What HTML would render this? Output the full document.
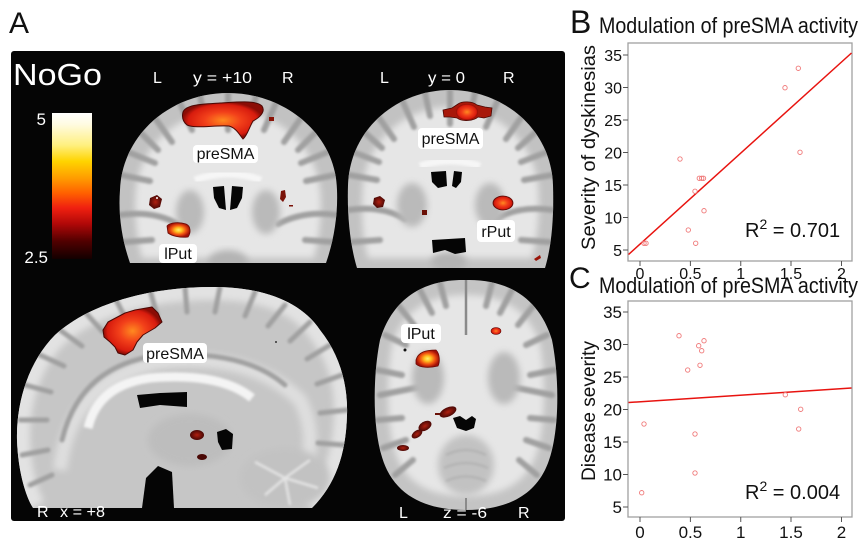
<!DOCTYPE html>
<html><head><meta charset="utf-8"><style>
html,body{margin:0;padding:0;background:#fff;}
svg{display:block;font-family:"Liberation Sans",Arial,sans-serif;}
</style></head><body>
<svg xmlns="http://www.w3.org/2000/svg" width="864" height="544" viewBox="0 0 864 544">
<defs>
<filter id="f1" x="-20%" y="-20%" width="140%" height="140%"><feGaussianBlur stdDeviation="1.3"/></filter>
<filter id="f3" x="-20%" y="-20%" width="140%" height="140%"><feGaussianBlur stdDeviation="3.5"/></filter>
<linearGradient id="cb" x1="0" y1="0" x2="0" y2="1">
<stop offset="0" stop-color="#ffffff"/><stop offset="0.08" stop-color="#fffbe0"/><stop offset="0.22" stop-color="#fff080"/>
<stop offset="0.33" stop-color="#ffd400"/><stop offset="0.45" stop-color="#ff9a00"/><stop offset="0.55" stop-color="#ff6000"/>
<stop offset="0.65" stop-color="#f02010"/><stop offset="0.76" stop-color="#b00808"/><stop offset="0.88" stop-color="#500000"/>
<stop offset="1" stop-color="#120000"/></linearGradient>
<radialGradient id="hot"><stop offset="0" stop-color="#ff8a20"/><stop offset="0.45" stop-color="#f2401a"/><stop offset="0.85" stop-color="#d81c0e"/><stop offset="1" stop-color="#8a0c05"/></radialGradient>
<radialGradient id="hotY"><stop offset="0" stop-color="#fff070"/><stop offset="0.3" stop-color="#ffc020"/><stop offset="0.65" stop-color="#f05010"/><stop offset="1" stop-color="#a01008"/></radialGradient>
<radialGradient id="drk"><stop offset="0" stop-color="#b02010"/><stop offset="1" stop-color="#4a0805"/></radialGradient>
<clipPath id="c1"><path d="M130,263 C122,240 118,215 120,190 C122,135 170,93 228,93 C286,93 336,135 337,190 C338,215 334,240 326,263 Z"/></clipPath>
<clipPath id="c2"><path d="M357,268 C350,245 347,215 348,185 C350,128 398,90 450,90 C502,90 551,128 553,185 C554,215 552,245 545,268 Z"/></clipPath>
<clipPath id="c3"><path d="M33,508 C25,495 18,470 17,440 C16,400 30,360 55,335 C90,303 150,287 213,287 C260,287 300,300 320,330 C340,355 348,385 347,415 C346,455 335,485 312,508 Z"/></clipPath>
<clipPath id="c4"><path d="M466,280 C510,279 540,300 552,340 C560,380 560,440 545,470 C530,500 500,510 466,510 C432,510 402,500 387,470 C372,440 372,380 380,340 C392,300 422,279 466,280 Z"/></clipPath>
</defs>
<rect width="864" height="544" fill="#fff"/>
<text x="9" y="33" font-size="30" fill="#111">A</text>
<rect x="11" y="51" width="554" height="470" rx="3" fill="#050505"/>
<text x="13" y="85" font-size="31" fill="#fff" textLength="89" lengthAdjust="spacingAndGlyphs">NoGo</text>
<rect x="52" y="113" width="40" height="146" fill="url(#cb)"/>
<text x="46" y="125" font-size="17" fill="#fff" text-anchor="end">5</text>
<text x="48" y="263" font-size="17" fill="#fff" text-anchor="end">2.5</text>

<!-- Coronal 1 -->
<g clip-path="url(#c1)">
<rect x="110" y="85" width="240" height="185" fill="#c2c2c2"/>
<path d="M142,258 C136,235 134,210 136,190 C140,145 180,110 228,110 C276,110 316,145 320,190 C322,210 320,235 314,258 Z" fill="#e6e6e6" filter="url(#f3)"/>
<g stroke="#a0a0a0" stroke-width="6" fill="none" filter="url(#f1)" stroke-linecap="round">
<path d="M228,93 L228,130"/><path d="M200,96 L205,120"/><path d="M180,103 L192,130"/><path d="M155,118 L172,142"/><path d="M140,132 L158,150"/><path d="M128,152 L155,163"/><path d="M121,175 L150,181"/>
<path d="M256,96 L251,120"/><path d="M276,103 L264,130"/><path d="M301,118 L284,142"/><path d="M316,132 L298,150"/><path d="M328,152 L301,163"/><path d="M335,175 L306,181"/>
<path d="M120,215 C140,212 160,214 178,224"/><path d="M337,215 C317,212 297,214 278,224"/>
<path d="M124,242 L152,240"/><path d="M333,242 L305,240"/>
</g>
<ellipse cx="190" cy="212" rx="14" ry="22" fill="#bababa" filter="url(#f3)"/>
<ellipse cx="266" cy="212" rx="14" ry="22" fill="#bababa" filter="url(#f3)"/>
<path d="M195,180 Q228,168 261,180" stroke="#f6f6f6" stroke-width="7" fill="none" filter="url(#f1)"/>
<ellipse cx="228" cy="262" rx="20" ry="12" fill="#b4b4b4" filter="url(#f3)"/>
<path d="M213,187 L224,186 L226,210 L219,208 L214,198 Z M232,186 L243,187 L242,198 L237,208 L230,210 Z" fill="#050505"/>
</g>
<path d="M183,112 C186,104 205,104 220,103 C238,102 256,100 262,106 C266,112 259,118 253,121 C249,128 247,136 243,139 C239,134 236,128 229,126 C214,125 196,129 187,125 C182,121 182,116 183,112 Z" fill="url(#hot)" stroke="#4a0804" stroke-width="1"/>
<rect x="269" y="117" width="5" height="4" fill="#8a1408"/>
<path d="M150,198 L157,195 L162,199 L160,207 L154,209 L149,205 Z" fill="url(#drk)"/>
<circle cx="157" cy="198" r="1" fill="#fff"/>
<path d="M281,191 L285,190 L286,197 L283,202 L280,199 Z" fill="#7a1208"/>
<rect x="289" y="205" width="4" height="1.5" fill="#7a1208"/>
<path d="M167,226 C170,222 180,222 186,224 C191,226 191,233 188,237 C180,238 172,236 168,233 Z" fill="url(#hotY)" stroke="#6a0a04" stroke-width="0.8"/>
<rect x="193" y="145" width="65" height="18" rx="4" fill="#fff"/>
<text x="225.5" y="159" font-size="16" text-anchor="middle" fill="#111">preSMA</text>
<rect x="159" y="244" width="38" height="19" rx="4" fill="#fff"/>
<text x="178" y="259" font-size="16" text-anchor="middle" fill="#111">lPut</text>

<!-- Coronal 2 -->
<g clip-path="url(#c2)">
<rect x="340" y="85" width="220" height="190" fill="#c2c2c2"/>
<path d="M368,258 C362,235 361,210 363,185 C368,140 405,107 450,107 C495,107 533,140 538,185 C540,210 538,235 532,258 Z" fill="#e6e6e6" filter="url(#f3)"/>
<g stroke="#a0a0a0" stroke-width="6" fill="none" filter="url(#f1)" stroke-linecap="round">
<path d="M450,90 L450,124"/><path d="M425,93 L430,116"/><path d="M402,100 L414,127"/><path d="M377,115 L394,139"/><path d="M362,130 L382,148"/><path d="M353,152 L379,162"/><path d="M349,175 L377,180"/>
<path d="M475,93 L470,116"/><path d="M498,100 L486,127"/><path d="M523,115 L506,139"/><path d="M538,130 L518,148"/><path d="M547,152 L521,162"/><path d="M552,175 L524,180"/>
<path d="M348,210 C368,207 388,209 405,219"/><path d="M553,210 C533,207 513,209 496,219"/>
<path d="M352,242 L380,240"/><path d="M549,242 L521,240"/>
</g>
<ellipse cx="412" cy="205" rx="15" ry="22" fill="#bababa" filter="url(#f3)"/>
<ellipse cx="490" cy="205" rx="15" ry="22" fill="#bababa" filter="url(#f3)"/>
<path d="M420,166 Q450,156 480,166" stroke="#f6f6f6" stroke-width="7" fill="none" filter="url(#f1)"/>
<ellipse cx="449" cy="262" rx="18" ry="10" fill="#b4b4b4" filter="url(#f3)"/>
<path d="M431,172 L446,171 L447,186 L438,188 L432,182 Z M454,171 L462,172 L461,182 L456,188 L452,186 Z" fill="#050505"/>
<path d="M432,240 L465,238 L466,252 L455,254 L445,250 L433,253 Z" fill="#050505"/>
</g>
<path d="M443,110 L452,108 L458,104 C462,101 472,101 477,105 L485,107 L492,108 L491,116 L484,118 L478,117 C474,121 462,122 457,118 L450,117 L444,117 Z" fill="#a8180a" stroke="#4a0804" stroke-width="0.8"/>
<ellipse cx="467" cy="112" rx="11" ry="8" fill="url(#hot)"/>
<path d="M374,198 L380,196 L385,200 L383,207 L377,208 L373,204 Z" fill="url(#drk)"/>
<ellipse cx="503" cy="203" rx="10" ry="7" fill="url(#hot)" stroke="#5a0804" stroke-width="0.8"/>
<rect x="422" y="210" width="5" height="5" fill="#6a1006"/>
<path d="M534,259 L540,255 L541,258 L536,261 Z" fill="#9a1408"/>
<rect x="418" y="128" width="65" height="21" rx="4" fill="#fff"/>
<text x="450.5" y="144" font-size="16" text-anchor="middle" fill="#111">preSMA</text>
<rect x="477" y="220" width="38" height="22" rx="4" fill="#fff"/>
<text x="496" y="237" font-size="16" text-anchor="middle" fill="#111">rPut</text>

<!-- Sagittal -->
<g clip-path="url(#c3)">
<rect x="10" y="280" width="345" height="235" fill="#c6c6c6"/>
<path d="M33,508 C25,495 18,470 17,440 C16,400 30,360 55,335 C90,303 150,287 213,287 C260,287 300,300 320,330 C340,355 348,385 347,415 C346,455 335,485 312,508" stroke="#e2e2e2" stroke-width="26" fill="none" filter="url(#f3)"/>
<path d="M60,470 Q70,380 160,362 Q250,352 300,400 Q320,440 300,480" stroke="#dedede" stroke-width="14" fill="none" filter="url(#f3)"/>
<g stroke="#a0a0a0" stroke-width="5" fill="none" filter="url(#f1)" stroke-linecap="round">
<path d="M25,385 L51,392"/><path d="M40,355 L64,366"/><path d="M60,330 L82,346"/><path d="M85,312 L103,332"/><path d="M115,298 L127,321"/>
<path d="M150,290 L157,315"/><path d="M185,287 L187,312"/><path d="M220,287 L215,312"/><path d="M255,292 L245,316"/><path d="M285,305 L268,326"/>
<path d="M310,322 L290,341"/><path d="M330,345 L307,359"/><path d="M342,375 L317,384"/><path d="M347,410 L320,413"/><path d="M344,445 L318,443"/>
<path d="M20,420 L47,420"/><path d="M22,455 L48,450"/><path d="M30,485 L52,475"/>
<path d="M62,440 Q80,365 160,355 Q245,350 285,385"/>
</g>
<ellipse cx="190" cy="440" rx="42" ry="26" fill="#bdbdbd" filter="url(#f3)"/>
<ellipse cx="285" cy="478" rx="45" ry="30" fill="#c2c2c2" filter="url(#f3)"/>
<g stroke="#e4e4e4" stroke-width="2.5" fill="none" filter="url(#f1)">
<path d="M285,478 L255,462"/><path d="M285,478 L265,495"/><path d="M285,478 L310,460"/><path d="M285,478 L318,488"/><path d="M285,478 L290,505"/>
</g>
<path d="M88,428 Q98,385 150,378 Q220,372 252,398" stroke="#f4f4f4" stroke-width="9" fill="none" filter="url(#f1)"/>
<path d="M137,395 L160,393 L187,392 L187,407 L160,405 L140,408 Z" fill="#050505"/>
<path d="M217,432 L226,429 L233,434 L232,449 L222,450 L218,442 Z" fill="#050505"/>
<path d="M142,508 L146,478 L158,466 L172,472 L174,508 Z" fill="#050505"/>
</g>
<path d="M103,330 L108,322 L125,313 L135,310 L152,307 L158,313 L162,322 L155,328 L143,335 L137,342 L133,350 L125,355 L118,353 L115,347 L110,342 L104,337 Z" fill="url(#hot)" stroke="#4a0804" stroke-width="1" stroke-linejoin="round"/>
<ellipse cx="197" cy="435" rx="7" ry="5" fill="url(#drk)"/>
<ellipse cx="202" cy="457" rx="5" ry="3" fill="#4a0805"/>
<circle cx="276" cy="342" r="1" fill="#333"/>
<rect x="143" y="343" width="64" height="20" rx="4" fill="#fff"/>
<text x="175" y="359" font-size="16" text-anchor="middle" fill="#111">preSMA</text>

<!-- Axial -->
<g clip-path="url(#c4)">
<rect x="365" y="275" width="200" height="240" fill="#c4c4c4"/>
<path d="M466,295 C505,295 530,312 540,345 C546,380 546,435 533,462 C520,488 496,496 466,496 C436,496 412,488 399,462 C386,435 386,380 392,345 C402,312 427,295 466,295 Z" fill="#e6e6e6" filter="url(#f3)"/>
<g stroke="#a0a0a0" stroke-width="6" fill="none" filter="url(#f1)" stroke-linecap="round">
<path d="M440,283 L446,306"/><path d="M420,290 L432,313"/><path d="M398,305 L414,325"/><path d="M385,335 L406,345"/><path d="M377,370 L402,375"/><path d="M378,420 L402,418"/><path d="M383,448 L406,440"/><path d="M395,475 L413,460"/>
<path d="M492,283 L486,306"/><path d="M512,290 L500,313"/><path d="M534,305 L518,325"/><path d="M547,335 L526,345"/><path d="M555,370 L530,375"/><path d="M554,420 L530,418"/><path d="M549,448 L526,440"/><path d="M537,475 L519,460"/>
<path d="M380,395 L420,387"/><path d="M552,395 L512,387"/>
</g>
<ellipse cx="428" cy="378" rx="16" ry="26" fill="#bababa" filter="url(#f3)"/>
<ellipse cx="504" cy="378" rx="16" ry="26" fill="#bababa" filter="url(#f3)"/>
<ellipse cx="466" cy="465" rx="28" ry="30" fill="#c2c2c2" filter="url(#f3)"/>
<g stroke="#b0b0b0" stroke-width="2" fill="none" filter="url(#f1)">
<path d="M446,455 Q466,445 486,455"/><path d="M444,468 Q466,458 488,468"/><path d="M446,481 Q466,472 486,481"/>
</g>
<path d="M466,280 L466,335" stroke="#8a8a8a" stroke-width="2.5"/>
<path d="M466,340 L466,410" stroke="#b4b4b4" stroke-width="2" filter="url(#f1)"/>
<path d="M466,498 L466,512" stroke="#8a8a8a" stroke-width="2"/>
<path d="M453,418 L460,416 L466,420 L472,416 L476,419 L474,428 L466,431 L457,428 Z" fill="#050505"/>
</g>
<path d="M416,360 C418,352 426,350 436,350 C440,354 440,362 438,366 C430,368 420,368 416,364 Z" fill="url(#hotY)" stroke="#6a0a04" stroke-width="0.8"/>
<ellipse cx="496" cy="331" rx="5" ry="3.5" fill="url(#hot)" stroke="#5a0804" stroke-width="0.6"/>
<ellipse cx="448" cy="412" rx="9" ry="4.5" fill="url(#drk)" transform="rotate(-25 448 412)"/>
<ellipse cx="425" cy="426" rx="7" ry="4.5" fill="url(#drk)" transform="rotate(-30 425 426)"/>
<ellipse cx="417" cy="434" rx="6" ry="3.5" fill="url(#drk)" transform="rotate(-35 417 434)"/>
<ellipse cx="403" cy="448" rx="6" ry="3" fill="url(#drk)"/>
<rect x="435" y="413" width="5" height="2" fill="#6a1006"/>
<circle cx="405" cy="350" r="1.5" fill="#111"/>
<rect x="401" y="324" width="40" height="19" rx="4" fill="#fff"/>
<text x="421" y="339" font-size="16" text-anchor="middle" fill="#111">lPut</text>

<!-- panel labels -->
<g fill="#fff" font-size="16">
<text x="153" y="83">L</text><text x="193" y="83" textLength="59" lengthAdjust="spacingAndGlyphs">y = +10</text><text x="282" y="83">R</text>
<text x="380" y="83">L</text><text x="428" y="83" textLength="37" lengthAdjust="spacingAndGlyphs">y = 0</text><text x="503" y="83">R</text>
<text x="37" y="517">R</text><text x="60" y="517" textLength="45" lengthAdjust="spacingAndGlyphs">x = +8</text>
<text x="399" y="518">L</text><text x="443" y="518" textLength="44" lengthAdjust="spacingAndGlyphs">z = -6</text><text x="518" y="518">R</text>
</g>

<!-- Plot B -->
<text x="570" y="33" font-size="32" fill="#111">B</text>
<text x="599" y="33" font-size="22" fill="#111" textLength="259" lengthAdjust="spacingAndGlyphs">Modulation of preSMA activity</text>
<rect x="628" y="43" width="224" height="218" fill="none" stroke="#a0a0a0" stroke-width="1.3"/>
<g stroke="#555" stroke-width="1">
<path d="M623,55H628M623,87.5H628M623,120H628M623,152.5H628M623,185H628M623,217.5H628M623,250H628"/>
<path d="M640,261V266M690.4,261V266M740.75,261V266M791,261V266M841.5,261V266"/>
</g>
<g font-size="16" fill="#111" text-anchor="end">
<text x="622" y="61">35</text><text x="622" y="93.5">30</text><text x="622" y="126">25</text><text x="622" y="158.5">20</text><text x="622" y="191">15</text><text x="622" y="223.5">10</text><text x="622" y="256">5</text>
</g>
<g font-size="16" fill="#111" text-anchor="middle">
<text x="640" y="279">0</text><text x="690.4" y="279">0.5</text><text x="740.75" y="279">1</text><text x="791" y="279">1.5</text><text x="841.5" y="279">2</text>
</g>
<text transform="translate(595,147.5) rotate(-90)" font-size="19" fill="#111" text-anchor="middle" textLength="205" lengthAdjust="spacingAndGlyphs">Severity of dyskinesias</text>
<line x1="628.5" y1="254.5" x2="851.5" y2="53" stroke="#e8130f" stroke-width="1.5"/>
<g fill="none" stroke="#f07a7a" stroke-width="0.9">
<circle cx="798.3" cy="68.3" r="2.2"/><circle cx="785" cy="87.7" r="2.2"/><circle cx="800" cy="152.3" r="2.2"/><circle cx="680" cy="159" r="2.2"/>
<circle cx="699.3" cy="178.3" r="2.2"/><circle cx="701.7" cy="178.3" r="2.2"/><circle cx="703.5" cy="178.3" r="2.2"/><circle cx="695" cy="191.3" r="2.2"/>
<circle cx="704" cy="210.7" r="2.2"/><circle cx="688.3" cy="230" r="2.2"/><circle cx="695.7" cy="243.3" r="2.2"/><circle cx="644" cy="243.3" r="2.2"/><circle cx="646" cy="243.3" r="2.2"/>
</g>
<text x="745" y="237" font-size="20" fill="#111">R<tspan dy="-8" font-size="14">2</tspan><tspan dy="8"> = 0.701</tspan></text>

<!-- Plot C -->
<text x="569" y="288" font-size="30" fill="#111">C</text>
<text x="599" y="293" font-size="22" fill="#111" textLength="259" lengthAdjust="spacingAndGlyphs">Modulation of preSMA activity</text>
<rect x="628" y="301" width="224" height="216" fill="none" stroke="#a0a0a0" stroke-width="1.3"/>
<g stroke="#555" stroke-width="1">
<path d="M623,312H628M623,344.5H628M623,377H628M623,409.5H628M623,442H628M623,474.5H628M623,507H628"/>
<path d="M640,517V522M690.4,517V522M740.75,517V522M791,517V522M841.5,517V522"/>
</g>
<g font-size="17" fill="#111" text-anchor="end">
<text x="622" y="318">35</text><text x="622" y="350.5">30</text><text x="622" y="383">25</text><text x="622" y="415.5">20</text><text x="622" y="448">15</text><text x="622" y="480.5">10</text><text x="622" y="513">5</text>
</g>
<g font-size="17" fill="#111" text-anchor="middle">
<text x="640" y="538">0</text><text x="690.4" y="538">0.5</text><text x="740.75" y="538">1</text><text x="791" y="538">1.5</text><text x="841.5" y="538">2</text>
</g>
<text transform="translate(595,411) rotate(-90)" font-size="19" fill="#111" text-anchor="middle" textLength="140" lengthAdjust="spacingAndGlyphs">Disease severity</text>
<line x1="628.5" y1="402.5" x2="851.5" y2="388" stroke="#e8130f" stroke-width="1.5"/>
<g fill="none" stroke="#f07a7a" stroke-width="0.9">
<circle cx="679" cy="335.7" r="2.2"/><circle cx="704" cy="340.7" r="2.2"/><circle cx="698.7" cy="345.7" r="2.2"/><circle cx="701.7" cy="350.7" r="2.2"/>
<circle cx="700" cy="365.3" r="2.2"/><circle cx="687.7" cy="370" r="2.2"/><circle cx="785.3" cy="394.7" r="2.2"/><circle cx="800.7" cy="409.3" r="2.2"/>
<circle cx="644" cy="424" r="2.2"/><circle cx="798.7" cy="429" r="2.2"/><circle cx="695" cy="434" r="2.2"/><circle cx="695" cy="473" r="2.2"/><circle cx="641.7" cy="492.7" r="2.2"/>
</g>
<text x="745" y="499" font-size="20" fill="#111">R<tspan dy="-8" font-size="14">2</tspan><tspan dy="8"> = 0.004</tspan></text>
</svg>
</body></html>
